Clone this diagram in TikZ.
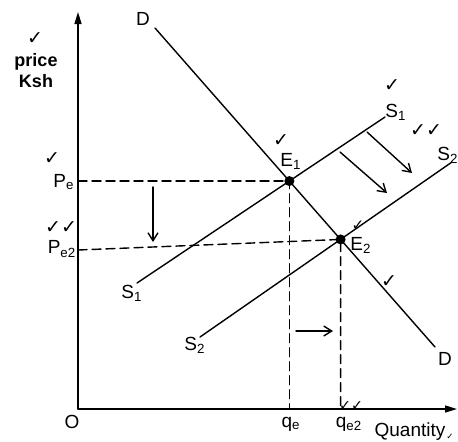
\documentclass[tikz,border=0pt]{standalone}
\usepackage{fontspec}
\setmainfont{Liberation Sans}
\newfontfamily\chkfont{DejaVu Sans}
\usetikzlibrary{arrows.meta}
\begin{document}
\begin{tikzpicture}[font=\fontsize{9.5}{11}\selectfont, line join=round, line cap=round, >={Straight Barb[length=4pt,width=5pt]}, x=0.5pt, y=-0.5pt, line width=0.7pt]
		\tikzset{chk/.style={font=\chkfont\fontsize{9.5}{10}\selectfont, inner sep=0pt},
			guide/.style={dash pattern=on 4.5pt off 2.5pt, line width=0.7pt},
			eqpt/.style={circle, fill, inner sep=0pt, minimum size=5pt}}
		\useasboundingbox (0,0) rectangle (458,441);
		\coordinate (O) at (78,409);
		\coordinate (ytop) at (78,12);
		\coordinate (xend) at (457,409);
		\draw[-{Triangle[length=6pt,width=3.5pt]}] (O)--(ytop);
		\draw[-{Triangle[length=6pt,width=3.5pt]}] (O)--(xend);
		\node (o) at (72,422) {O};
		\node[align=center, font=\fontsize{9}{10.5}\selectfont\bfseries] (price) at (36,71) {price\\Ksh};
		% demand and supply lines
		\coordinate (D1) at (155,28);
		\coordinate (D2) at (435,347);
		\coordinate (S1a) at (137,283);
		\coordinate (S1b) at (385,117);
		\coordinate (S2a) at (200,337);
		\coordinate (S2b) at (452,162);
		\draw (D1)--(D2);
		\draw (S1a)--(S1b);
		\draw (S2a)--(S2b);
		\coordinate (E1) at (intersection of D1--D2 and S1a--S1b);
		\coordinate (E2) at (intersection of D1--D2 and S2a--S2b);
		\node (dtop) at (143,19) {D};
		\node (dbot) at (445,359) {D};
		\node (s1top) at (396,112) {S\textsubscript{1}};
		\node (s2top) at (448,155) {S\textsubscript{2}};
		\node (s1bot) at (132,293) {S\textsubscript{1}};
		\node (s2bot) at (195,345) {S\textsubscript{2}};
		% equilibria
		\coordinate (pe2) at (78,250);
		\draw[guide] (E1 -| O)--(E1)--(E1 |- O);
		\draw[guide] (pe2)--(E2)--(E2 |- O);
		\node[eqpt] (e1) at (E1) {};
		\node[eqpt] (e2) at (E2) {};
		\node[inner sep=1pt] (e1lbl) at (291,161) {E\textsubscript{1}};
		\node[inner sep=1pt] (e2lbl) at (361,245) {E\textsubscript{2}};
		\node (pe) at (64,182) {P\textsubscript{e}};
		\node (pe2lbl) at (62,249) {P\textsubscript{e2}};
		\node (qe) at (291,424) {q\textsubscript{e}};
		\node (qe2) at (349,424) {q\textsubscript{e2}};
		\node (qty) at (410,432) {Quantity};
		% shifts
		\coordinate (a1) at (153,187);
		\coordinate (a2) at (153,242);
		\coordinate (b1) at (296,331);
		\coordinate (b2) at (333,331);
		\coordinate (c1) at (367,132);
		\coordinate (c2) at (412,173);
		\coordinate (d1) at (340,152);
		\coordinate (d2) at (387,193);
		\draw[->] (a1)--(a2);
		\draw[->] (b1)--(b2);
		\draw[->] (c1)--(c2);
		\draw[->] (d1)--(d2);
		% ticks
		\node[chk] at (35,39) {✓};
		\node[chk] at (52,159) {✓};
		\node[chk] at (61,228) {✓✓};
		\node[chk] at (281,141) {✓};
		\node[chk] at (392,86) {✓};
		\node[chk] at (426,131) {✓✓};
		\node[chk, scale=0.8] at (358,226) {✓};
		\node[chk] at (389,281) {✓};
		\node[chk, scale=0.75] at (351,406) {✓✓};
		\node[chk, scale=0.45] at (450,437) {✓};
	\end{tikzpicture}
\end{document}
